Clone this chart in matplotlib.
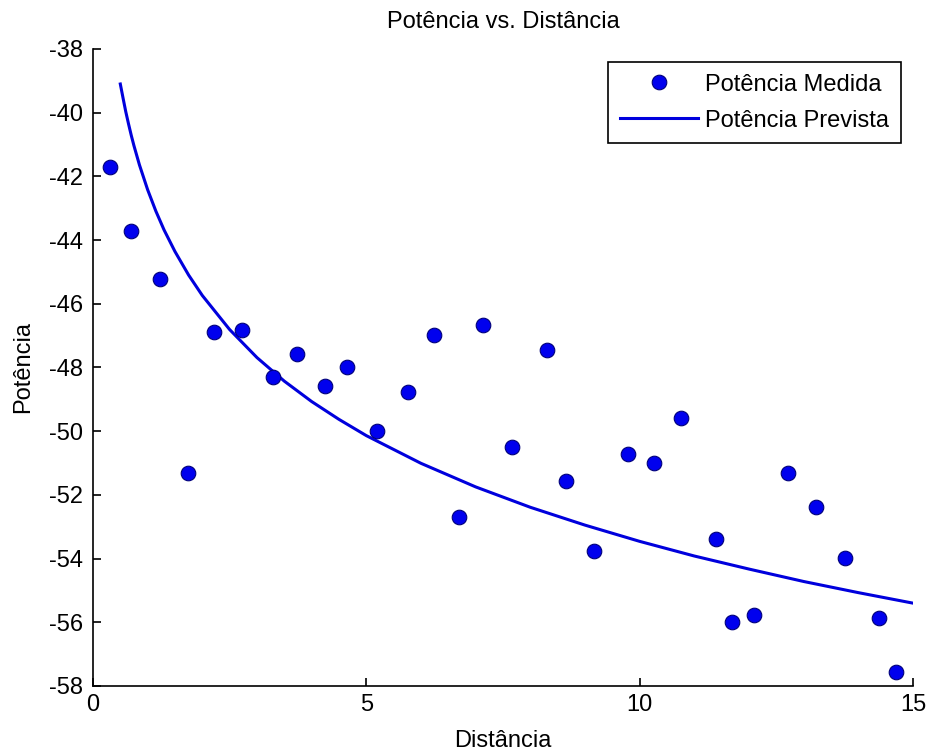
import matplotlib
matplotlib.use('Agg')
import matplotlib.pyplot as plt

# measured points (distance, power)
dist_med = [0.32, 0.70, 1.22, 1.73, 2.21, 2.73, 3.29, 3.73, 4.24, 4.65,
            5.20, 5.77, 6.24, 6.69, 7.14, 7.66, 8.31, 8.65, 9.17, 9.79,
            10.27, 10.76, 11.40, 11.69, 12.10, 12.72, 13.22, 13.76, 14.37, 14.69]
pot_med = [-41.70, -43.71, -45.21, -51.32, -46.88, -46.82, -48.29, -47.59, -48.58, -47.97,
           -50.00, -48.78, -46.98, -52.68, -46.67, -50.49, -47.45, -51.56, -53.76, -50.72,
           -51.01, -49.60, -53.38, -56.00, -55.77, -51.30, -52.37, -53.99, -55.88, -57.55]

# predicted curve
dist_prev = [0.5, 0.55, 0.6, 0.65, 0.7, 0.75, 0.85, 1.0, 1.15, 1.3, 1.5, 1.75, 2.0,
             2.5, 3.0, 3.5, 4.0, 4.5, 5.0, 6.0, 7.0, 8.0, 9.0, 10.0, 11.0, 12.0,
             13.0, 14.0, 15.0]
pot_prev = [-39.10, -39.54, -39.97, -40.35, -40.71, -41.04, -41.64, -42.42, -43.09, -43.68,
            -44.36, -45.10, -45.74, -46.81, -47.69, -48.43, -49.07, -49.63, -50.14,
            -51.01, -51.75, -52.39, -52.95, -53.46, -53.92, -54.33, -54.72, -55.07, -55.40]

xticks = [0, 5, 10, 15]
yticks = list(range(-58, -37, 2))

plt.rcParams['font.family'] = ['Liberation Sans', 'DejaVu Sans']
plt.rcParams['axes.unicode_minus'] = False

fig = plt.figure(figsize=(9.26, 7.51), dpi=100)
ax = fig.add_axes([0.1004, 0.0866, 0.8856, 0.8482])

ax.plot(dist_med, pot_med, 'o', color='#0000ee', markeredgecolor='#00007a',
        markeredgewidth=0.8, markersize=10.5, label='Potência Medida', zorder=3)
ax.plot(dist_prev, pot_prev, '-', color='#0000dd', linewidth=2.2,
        label='Potência Prevista')

ax.set_xlim(0, 15)
ax.set_ylim(-58, -38)
ax.set_xticks(xticks)
ax.set_yticks(yticks)
ax.spines['top'].set_visible(False)
ax.spines['right'].set_visible(False)
for s in ['left', 'bottom']:
    ax.spines[s].set_linewidth(1.2)
ax.tick_params(direction='in', length=6, width=1.2, labelsize=17, colors='black')
ax.tick_params(axis='y', pad=7)
ax.tick_params(axis='x', pad=6)

ax.set_title('Potência vs. Distância', fontsize=17, pad=15)
ax.set_xlabel('Distância', fontsize=17, labelpad=10)
ax.set_ylabel('Potência', fontsize=17, labelpad=11)

leg = ax.legend(loc='upper right', bbox_to_anchor=(0.985, 0.98), borderaxespad=0,
                fontsize=17, fancybox=False, framealpha=1, edgecolor='black',
                borderpad=0.5, handlelength=3.3, handletextpad=0.3,
                labelspacing=0.6)
leg.get_frame().set_linewidth(1.2)

fig.savefig('out.png', dpi=100)
